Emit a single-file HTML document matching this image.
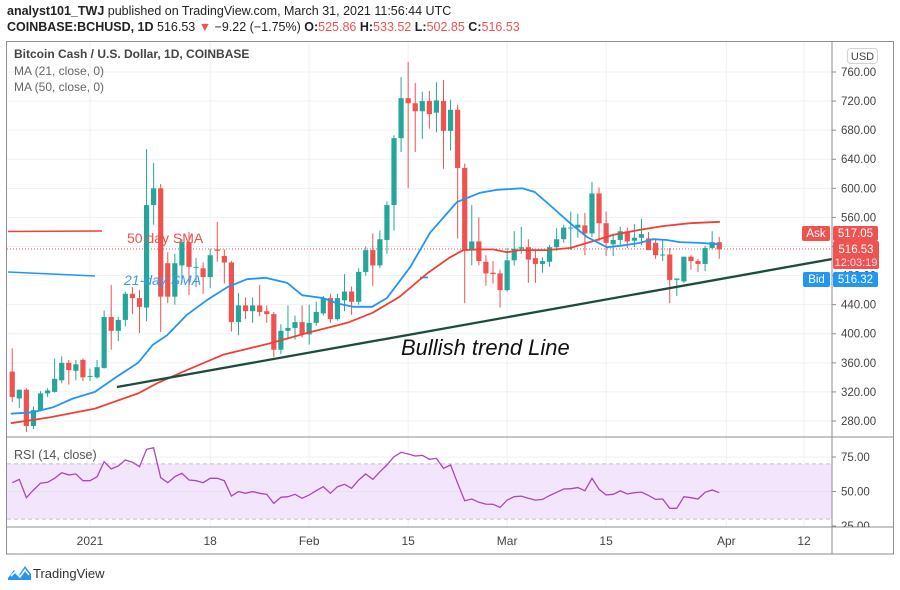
<!DOCTYPE html>
<html><head><meta charset="utf-8"><style>
html,body{margin:0;padding:0;background:#fff;}
svg{display:block;font-family:"Liberation Sans",sans-serif;}
</style></head><body>
<svg id="chart" width="900" height="590" viewBox="0 0 900 590" xmlns="http://www.w3.org/2000/svg">
<text x="7" y="15" font-size="12.5" fill="#222"><tspan font-weight="bold">analyst101_TWJ</tspan> published on TradingView.com, March 31, 2021 11:56:44 UTC</text>
<text x="7" y="31" font-size="12.5" fill="#222"><tspan font-weight="bold">COINBASE:BCHUSD, 1D</tspan> 516.53 <tspan fill="#ef5350">▼</tspan> −9.22 (−1.75%) <tspan font-weight="bold">O:</tspan><tspan fill="#ef5350">525.86</tspan> <tspan font-weight="bold">H:</tspan><tspan fill="#ef5350">533.52</tspan> <tspan font-weight="bold">L:</tspan><tspan fill="#ef5350">502.85</tspan> <tspan font-weight="bold">C:</tspan><tspan fill="#ef5350">516.53</tspan></text>
<g id="grid"></g>
<g id="rsiPane"></g>
<g id="price"></g>
<g id="overlay"></g>
<g id="axes"></g>
<g>
<path d="M8 578 L14 570 L19 575 L25 566 L31 574 L31 580 L8 580 Z" fill="#2196f3"/>
<path d="M11 576 L15 572 L20 577 L25 570 L29 575" stroke="#fff" stroke-width="1.6" fill="none"/>
<text x="33" y="578" font-size="13" fill="#333">TradingView</text>
</g>
</svg>
<script>
const days=[-11,-10,-9,-8,-7,-6,-5,-4,-3,-2,-1,0,1,2,3,4,5,6,7,8,9,10,11,12,13,14,15,16,17,18,19,20,21,22,23,24,25,26,27,28,29,30,31,32,33,34,35,36,37,38,39,40,41,42,43,44,45,46,47,48,49,50,51,52,53,54,55,56,57,58,59,60,61,62,63,64,65,66,67,68,69,70,71,72,73,74,75,76,77,78,79,80,81,82,83,84,85,86,87,88,89];
const opens=[348,311,323,273,295,318,320,336,360,349,364,341,340,353,423,404,419,455,449,436,577,600,497,451,494,526,492,490,478,516,507,498,416,439,431,439,431,427,378,404,408,416,399,415,428,449,420,446,458,444,485,515,494,529,577,669,724,717,706,720,704,720,679,708,628,515,527,499,484,483,460,501,517,519,504,496,499,519,530,545,546,549,538,593,552,523,529,541,528,532,531,525,508,509,474,472,506,500,496,518,526];
const highs=[380,323,325,300,321,325,366,369,364,364,366,352,364,432,467,423,458,464,460,654,635,606,512,510,530,540,504,498,517,554,516,500,456,450,450,467,439,430,413,439,425,439,440,444,452,455,455,482,465,490,520,538,542,582,673,753,774,745,733,734,746,749,722,715,634,577,560,508,500,488,518,541,547,530,517,505,522,545,550,568,565,566,609,601,568,538,547,546,551,558,540,530,530,518,476,506,508,503,521,541,533];
const lows=[306,298,265,269,293,313,319,332,330,336,335,335,338,352,378,390,410,427,401,417,550,402,442,440,470,453,464,455,463,499,469,403,398,420,415,424,415,368,372,392,392,395,385,411,425,415,418,431,426,440,480,466,490,510,542,650,600,650,668,682,677,627,652,531,442,494,494,466,469,436,458,494,510,470,470,484,492,514,525,515,532,508,533,527,507,507,522,518,519,522,515,503,500,442,452,470,488,485,486,516,503];
const closes=[313,323,273,295,318,322,338,360,350,358,340,342,354,423,404,419,455,449,437,577,600,451,451,497,526,492,492,478,508,514,498,416,439,431,439,430,427,378,404,408,416,399,415,430,449,420,449,458,444,485,515,494,530,577,669,724,717,706,720,702,721,679,708,628,515,527,500,483,482,460,501,517,519,502,496,500,519,530,546,546,550,538,593,552,525,529,541,527,532,537,515,508,509,474,476,506,500,496,518,526,516];
const ma21Days=[-11.2,-8.1,-5.2,-2.4,0.7,3.8,6.8,8.9,10.9,13.7,16.5,19.4,22.2,24.8,27.9,30,33,34.9,37.2,39.9,42,45.3,48.1,50.9,51.9,55.2,57.6,61.1,62.9,65.5,67.9,70.3,73.1,75,77.8,79.6,81.6,83.4,86.3,89.1];
const ma21Vals=[290,292,299,311,320,341,360,385,398,426,446,464,475,477,470,453,449,442,437,437,449,492,539,570,581,594,598,600,595,573,552,533,519,521,525,530,529,526,525,523];
const ma50Days=[-11.2,-5.7,0.7,6.8,9.5,13.7,18.8,25.5,30.7,36.4,40,43.8,47.7,50.9,52.8,55.2,57,59,60.8,64.6,67.9,70.7,74,77.8,81,84.9,89.1];
const ma50Vals=[277,285,297,318,332,350,371,387,401,415,429,451,483,505,515,516,516,512,515,515,518,526,536,543,548,552,554];
const rsiVals=[56.4,58.8,45.5,51,56,56.7,59.6,63.6,62,62.7,57.8,57.8,60.7,71.6,66.3,68.5,72.8,71.2,68,80.6,81.7,60,56.4,60.7,63.2,58.3,57.8,56.4,59.6,59.6,57.8,46.7,49.9,48.7,49.9,48.7,48,41.4,45.8,46.2,48,45.1,47.5,50.6,53.5,48.7,53.5,55.2,52.3,58.3,62.7,58.8,64.3,69.2,75.2,78.4,77.2,75.7,76.2,73.3,74,66.8,69.2,56,43.3,44.6,42.2,40.9,40.7,38.5,43.8,46.2,46.7,45.1,43.8,44.3,47,49.4,51.8,52,52.8,50.6,59.6,51.6,47.5,48,50.4,48.2,49.1,49.6,47.2,44.3,44.6,37.8,37.8,46.2,45.5,44.6,49.4,51.1,49.1];
const priceTicks=[280,320,360,400,440,480,520,560,600,640,680,720,760];
const rsiTicks=[75,50,25];
const dateTickDays=[0,17,31,45,59,73,90,101];
const dateTickLabels=["2021","18","Feb","15","Mar","15","Apr","12"];
const trendDays=[3.8,105];
const trendVals=[326.7,502.8];

const NS="http://www.w3.org/2000/svg";
const PL=7,PR=832,PT=42,PB=437,RT=437,RB=527,AB=554;
const xDay=d=>90+d*7.07;
const yP=p=>421-(p-280)*0.7271;
const yR=r=>491.5-(r-50)*1.38;
function mk(tag,attrs,parent){const e=document.createElementNS(NS,tag);for(const k in attrs)e.setAttribute(k,attrs[k]);parent.appendChild(e);return e;}
const grid=document.getElementById('grid'),price=document.getElementById('price'),ov=document.getElementById('overlay'),axes=document.getElementById('axes'),rp=document.getElementById('rsiPane');

// clip paths
const defs=mk('defs',{},document.getElementById('chart'));
const cp=mk('clipPath',{id:'pclip'},defs);mk('rect',{x:PL,y:PT,width:PR-PL,height:PB-PT},cp);
const cr=mk('clipPath',{id:'rclip'},defs);mk('rect',{x:PL,y:RT,width:PR-PL,height:RB-RT},cr);
const ca=mk('clipPath',{id:'aclip'},defs);mk('rect',{x:PR,y:RT,width:70,height:RB-RT},ca);

// grid
priceTicks.forEach(p=>{const l=mk('line',{x1:PL,x2:PR,y1:yP(p),y2:yP(p),stroke:'#edf1f5','stroke-width':1},grid);

});
dateTickDays.forEach(d=>{const l=mk('line',{x1:xDay(d),x2:xDay(d),y1:PT,y2:RB,stroke:'#edf1f5','stroke-width':1},grid);

});

// RSI pane
const band=mk('rect',{x:PL,y:yR(70),width:PR-PL,height:yR(30)-yR(70),fill:'#f3e6fc'},rp);


mk('line',{x1:PL,x2:PR,y1:yR(50),y2:yR(50),stroke:'#e8e0f0','stroke-width':1},rp);
mk('line',{x1:PL,x2:PR,y1:yR(75),y2:yR(75),stroke:'#edf1f5','stroke-width':1},rp);
[70,30].forEach(v=>{const l=mk('line',{x1:PL,x2:PR,y1:yR(v),y2:yR(v),stroke:'#c0c0c8','stroke-width':1,'stroke-dasharray':'4,3'},rp);

});
const rsiPts=rsiVals.map((v,i)=>xDay(days[i]).toFixed(1)+','+yR(v).toFixed(1)).join(' ');
const rl=mk('polyline',{points:rsiPts,fill:'none',stroke:'#ab47bc','stroke-width':1.3,'clip-path':'url(#rclip)'},rp);


const rt=mk('text',{x:14,y:459,'font-size':12.5,fill:'#555'},rp);rt.textContent='RSI (14, close)';



// annotation lines (left)
mk('line',{x1:8,x2:102,y1:231.5,y2:231,stroke:'#f0403a','stroke-width':1.6},ov);
mk('line',{x1:8,x2:95,y1:272,y2:276,stroke:'#2196f3','stroke-width':1.6},ov);
mk('line',{x1:420,x2:428,y1:277.5,y2:277.5,stroke:'#2196f3','stroke-width':1.6},ov);

// dotted last price
mk('line',{x1:PL,x2:PR,y1:yP(516.53),y2:yP(516.53),stroke:'#ef5350','stroke-width':1,'stroke-dasharray':'1,2'},price);

// candles
days.forEach((d,i)=>{
 const up=closes[i]>=opens[i];const col=up?'#26a69a':'#ef5350';const x=xDay(d);
 const g=mk('g',{},price);
 
 
 mk('line',{x1:x,x2:x,y1:yP(highs[i]),y2:yP(lows[i]),stroke:col,'stroke-width':1},g);
 const top=yP(Math.max(opens[i],closes[i])),bot=yP(Math.min(opens[i],closes[i]));
 mk('rect',{x:x-2.6,y:top,width:5.2,height:Math.max(1,bot-top),fill:col},g);
});

// MAs
function line(ds,vs,color,name){const pts=ds.map((d,i)=>xDay(d).toFixed(1)+','+yP(vs[i]).toFixed(1)).join(' ');
 const p=mk('polyline',{points:pts,fill:'none',stroke:color,'stroke-width':1.8,'stroke-linejoin':'round','clip-path':'url(#pclip)'},ov);
 
 }
line(ma50Days,ma50Vals,'#f0403a','ma50-line');
line(ma21Days,ma21Vals,'#2196f3','ma21-line');

// trend line
const tl=mk('line',{x1:xDay(trendDays[0]),y1:yP(trendVals[0]),x2:xDay(trendDays[1]),y2:yP(trendVals[1]),stroke:'#1b4d3e','stroke-width':2.3,'clip-path':'url(#pclip)'},ov);


const tt=mk('text',{x:401,y:355,'font-size':22,'font-style':'italic',fill:'#111'},ov);tt.textContent='Bullish trend Line';


const s50=mk('text',{x:127,y:243,'font-size':14,fill:'#f0504a'},ov);s50.textContent='50 day SMA';


const s21=mk('text',{x:124,y:285,'font-size':14,'font-style':'italic',fill:'#3a9bf0'},ov);s21.textContent='21-day SMA';



// legend
[['Bitcoin Cash / U.S. Dollar, 1D, COINBASE',58,'#444','bold'],['MA (21, close, 0)',75,'#666','normal'],['MA (50, close, 0)',91,'#666','normal']].forEach((a,i)=>{
 const t=mk('text',{x:14,y:a[1],'font-size':12,fill:a[2],'font-weight':a[3]},ov);t.textContent=a[0];
 
 });

// frames
mk('rect',{x:6.5,y:41.5,width:887,height:AB-41.5,fill:'none',stroke:'#8a8e96','stroke-width':1},axes);
mk('line',{x1:PR,x2:PR,y1:41.5,y2:AB,stroke:'#8a8e96','stroke-width':1},axes);
mk('line',{x1:6.5,x2:893.5,y1:PB,y2:PB,stroke:'#8a8e96','stroke-width':1},axes);
mk('line',{x1:6.5,x2:893.5,y1:RB,y2:RB,stroke:'#8a8e96','stroke-width':1},axes);

// price axis
priceTicks.forEach(p=>{const y=yP(p);
 mk('line',{x1:PR,x2:PR+4,y1:y,y2:y,stroke:'#8a8e96'},axes);
 const t=mk('text',{x:PR+9,y:y+4,'font-size':11.5,fill:'#444'},axes);t.textContent=p.toFixed(2);
 
 });
rsiTicks.forEach(v=>{const y=yR(v);
 const g=mk('g',{'clip-path':'url(#aclip)'},axes);
 mk('line',{x1:PR,x2:PR+4,y1:y,y2:y,stroke:'#8a8e96'},g);
 const t=mk('text',{x:PR+9,y:y+4,'font-size':11.5,fill:'#444'},g);t.textContent=v.toFixed(2);
 
 });
dateTickDays.forEach((d,i)=>{const t=mk('text',{x:xDay(d),y:545,'font-size':12,fill:'#444','text-anchor':'middle'},axes);t.textContent=dateTickLabels[i];
 
 });
const usd=mk('g',{},axes);


mk('rect',{x:847.5,y:48.5,width:30,height:15,rx:3,fill:'#fff',stroke:'#d0d3d8'},usd);
const ut=mk('text',{x:862.5,y:60,'font-size':11,fill:'#444','text-anchor':'middle'},usd);ut.textContent='USD';

// price labels
function box(x,y,w,h,col,txt,name,ty){const g=mk('g',{},axes);
 
 
 mk('rect',{x:x,y:y,width:w,height:h,rx:2,fill:col},g);
 const t=mk('text',{x:x+w/2,y:ty||y+h-4,'font-size':11.5,fill:'#fff','text-anchor':'middle'},g);t.textContent=txt;return g;}
box(802,226,28,15,'#ef5350','Ask','ask-tag');
box(833,226,45,15,'#ef5350','517.05','ask-price-label');
const lp=box(833,241,46,28,'#ef5350','516.53','last-price-label',253);
const lt=mk('text',{x:856,y:266,'font-size':11,fill:'#fde','text-anchor':'middle'},lp);lt.textContent='12:03:19';
box(803,272,27,15,'#2196f3','Bid','bid-tag');
box(833,272,45,15,'#2196f3','516.32','bid-price-label');
</script>
</body></html>
